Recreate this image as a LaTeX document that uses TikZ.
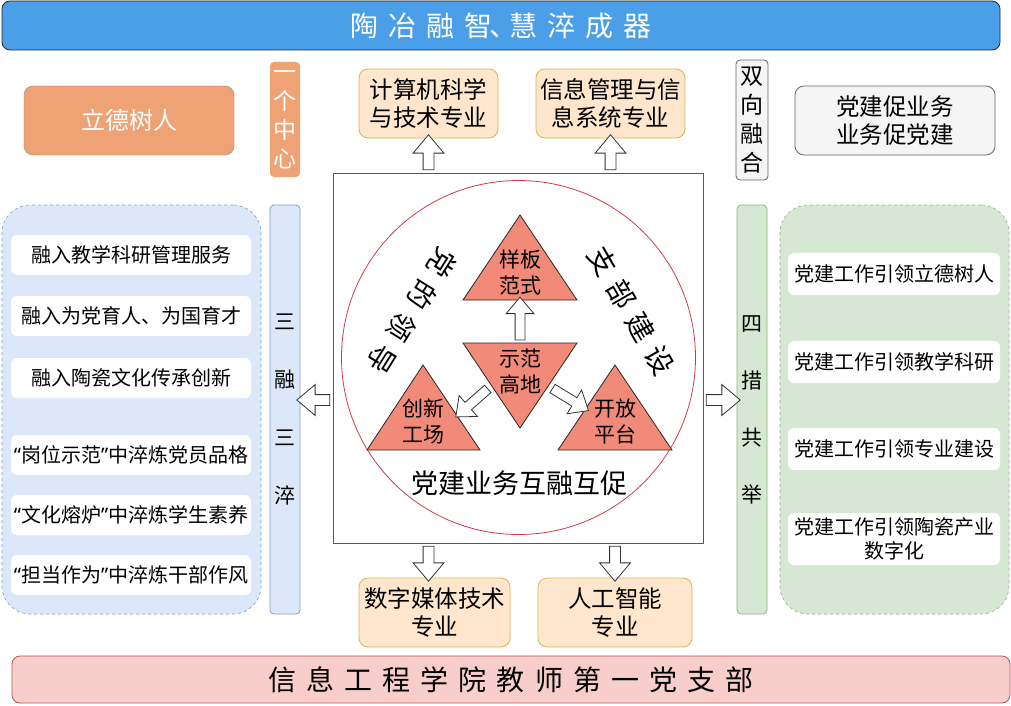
\documentclass[tikz,border=0pt]{standalone}
\usepackage{fontspec}
\setmainfont{Noto Sans CJK SC}
\newfontfamily\widecjk[LetterSpace=36]{Noto Sans CJK SC}
\newfontfamily\quotefont{Noto Sans}
\usetikzlibrary{shapes.arrows, calc, positioning}

\definecolor{titleblue}{HTML}{4A9FE8}
\definecolor{heartorange}{HTML}{EFA274}
\definecolor{majorfill}{HTML}{FFE6CC}
\definecolor{majorline}{HTML}{D6B656}
\definecolor{greyfill}{HTML}{F5F5F5}
\definecolor{bluefill}{HTML}{DCE8F9}
\definecolor{blueline}{HTML}{7F9CC6}
\definecolor{greenfill}{HTML}{D6E8D4}
\definecolor{greenline}{HTML}{8DB47A}
\definecolor{pinkfill}{HTML}{F8CECC}
\definecolor{pinkline}{HTML}{B85450}
\definecolor{trifill}{HTML}{F28A79}
\definecolor{ringred}{HTML}{D23A4C}

% 窄引号
\newcommand\openq{{\quotefont “}}
\newcommand\closeq{{\quotefont ”}}

% 空心箭头: 从 #2 指向 #3
\newcommand\blockarrow[3][]{%
  \path let \p1=(#2), \p2=(#3), \n1={veclen(\x2-\x1,\y2-\y1)} in
    (\p1) -- (\p2) node[hollowarrow, midway, sloped, allow upside down, minimum height=\n1, #1] {};}

\begin{document}
\begin{tikzpicture}[x=1pt, y=-1pt,
    every node/.style={inner sep=2pt, outer sep=0pt},
    banner/.style={draw=black!85, line width=0.8pt, rounded corners=8pt, minimum width=998pt, font=\widecjk\fontsize{28}{32}\selectfont},
    heart/.style={fill=heartorange, text=white, rounded corners=9pt, minimum width=210pt, minimum height=69pt},
    major/.style={draw=majorline, fill=majorfill, line width=0.8pt, rounded corners=9pt, minimum height=69pt, align=center, font=\fontsize{23.5}{28}\selectfont},
    greybox/.style={draw=black!60, fill=greyfill, line width=0.8pt, rounded corners=9pt, align=center},
    vbar/.style={rounded corners=4pt, minimum width=30pt, line width=0.8pt, align=center, inner sep=0pt},
    group/.style={dashed, line width=0.6pt, rounded corners=28pt},
    item/.style={fill=white, rounded corners=6pt, align=center, font=\fontsize{20}{24}\selectfont},
    tri/.style={draw=black!85, fill=trifill, line width=0.8pt},
    trilabel/.style={align=center, font=\fontsize{21}{26}\selectfont},
    arcword/.style={font=\widecjk\fontsize{28}{30}\selectfont},
    hollowarrow/.style={single arrow, draw=black!80, fill=white, line width=0.8pt, inner sep=0pt, inner ysep=5pt, single arrow head extend=10pt, single arrow tip angle=80},
    smallarrow/.style={inner ysep=4.5pt, single arrow head extend=9pt}
]
\useasboundingbox (0,0) rectangle (1011,706);

% 标题与底栏
\node[banner, fill=titleblue, text=white, minimum height=49pt] (title) at (501,25.5) {陶冶融智\kern-4pt、\kern-8pt慧淬成器};
\node[banner, fill=pinkfill, draw=pinkline, minimum height=47pt] (branch) at (511,679.5) {信息工程学院教师第一党支部};

% 上排
\node[heart, draw=black!45, font=\fontsize{24}{28}\selectfont] (lide) at (129,120.5) {立德树人};
\node[vbar, fill=heartorange, text=white, minimum height=115pt, font=\fontsize{23}{29}\selectfont] (onecenter) at (285,119.5) {一\\个\\中\\心};
\node[major, minimum width=139pt] (cs) at (428.5,103.5) {计算机科学\\与技术专业};
\node[major, minimum width=149pt] (im) at (610.5,103.5) {信息管理与信\\息系统专业};
\node[vbar, greybox, rounded corners=4pt, minimum height=120pt, minimum width=32pt, font=\fontsize{23}{29}\selectfont] (twoway) at (752,120) {双\\向\\融\\合};
\node[greybox, minimum width=200pt, minimum height=69pt, font=\fontsize{23.5}{28}\selectfont] (mutual) at (895,120.5) {党建促业务\\业务促党建};

% 下排专业
\node[major, minimum width=151pt] (dm) at (434.5,612.5) {数字媒体技术\\专业};
\node[major, minimum width=154pt] (ai) at (615,612.5) {人工智能\\专业};

% 左侧 三融三淬
\node[group, draw=blueline, fill=bluefill, minimum width=259pt, minimum height=409pt] (lgroup) at (131.5,409.5) {};
\node[vbar, draw=blueline, fill=bluefill, minimum height=409pt, font=\fontsize{21}{58}\selectfont] (sanrong) at (285,409.5) {三\\融\\三\\淬};
\node[item, minimum width=240pt, minimum height=40pt] (l1) at (131,255) {融入教学科研管理服务};
\node[item, minimum width=240pt, minimum height=40pt] (l2) at (131,316) {融入为党育人、为国育才};
\node[item, minimum width=240pt, minimum height=40pt] (l3) at (131,378) {融入陶瓷文化传承创新};
\node[item, minimum width=240pt, minimum height=40pt] (l4) at (131,455) {\openq 岗位示范\closeq 中淬炼党员品格};
\node[item, minimum width=240pt, minimum height=40pt] (l5) at (131,515) {\openq 文化熔炉\closeq 中淬炼学生素养};
\node[item, minimum width=240pt, minimum height=40pt] (l6) at (131,575) {\openq 担当作为\closeq 中淬炼干部作风};

% 右侧 四措共举
\node[group, draw=greenline, fill=greenfill, minimum width=229pt, minimum height=409pt] (rgroup) at (894.5,409.5) {};
\node[vbar, draw=greenline, fill=greenfill, minimum height=409pt, font=\fontsize{21}{57}\selectfont] (siju) at (752,409.5) {四\\措\\共\\举};
\node[item, minimum width=212pt, minimum height=42pt] (r1) at (894,274) {党建工作引领立德树人};
\node[item, minimum width=212pt, minimum height=42pt] (r2) at (894,362) {党建工作引领教学科研};
\node[item, minimum width=212pt, minimum height=42pt] (r3) at (894,449) {党建工作引领专业建设};
\node[item, minimum width=212pt, minimum height=52pt] (r4) at (894,539) {党建工作引领陶瓷产业\\数字化};

% 中心方框与圆
\node[draw=black!65, fill=white, line width=1pt, minimum width=370pt, minimum height=370pt] (sq) at (518,358) {};
\node[circle, draw=ringred, line width=0.8pt, minimum size=354pt] (ring) at (518.5,357.5) {};

% 四个三角形
\draw[tri] (463,300) -- (520,215) -- (577,300) -- cycle;
\draw[tri] (463,343) -- (577,343) -- (520,428) -- cycle;
\draw[tri] (367,450) -- (423,365) -- (480,450) -- cycle;
\draw[tri] (558,450) -- (615,365) -- (672,450) -- cycle;
\coordinate (yang-s) at (520,300);
\coordinate (gao-n) at (520,343);
\node[trilabel] (yang) at (520,273) {样板\\范式};
\node[trilabel] (gao) at (520,372) {示范\\高地};
\node[trilabel] (chuang) at (423,421) {创新\\工场};
\node[trilabel] (kai) at (615,421) {开放\\平台};

% 弧形文字
\node[arcword, rotate=238] (lead) at (412,311) {党的领导};
\node[arcword, rotate=-60] (build) at (631,311) {支部建设};
\node[font=\fontsize{27}{30}\selectfont] (merge) at (519,483) {党建业务互融互促};

% 空心箭头
\coordinate (side) at (518,400);
\blockarrow{sq.north -| cs}{cs.south}
\blockarrow{sq.north -| im}{im.south}
\blockarrow{sq.south -| cs}{dm.north -| cs}
\blockarrow{sq.south -| ai}{ai.north}
\blockarrow{sq.west |- side}{sanrong.east |- side}
\blockarrow{sq.east |- side}{siju.west |- side}
\blockarrow[smallarrow]{gao-n}{yang-s}
\coordinate (gl) at (490,387);
\coordinate (gr) at (550,387);
\coordinate (cn) at (458,415);
\coordinate (kn) at (586,409);
\blockarrow[smallarrow]{gl}{cn}
\blockarrow[smallarrow]{gr}{kn}

\end{tikzpicture}
\end{document}
